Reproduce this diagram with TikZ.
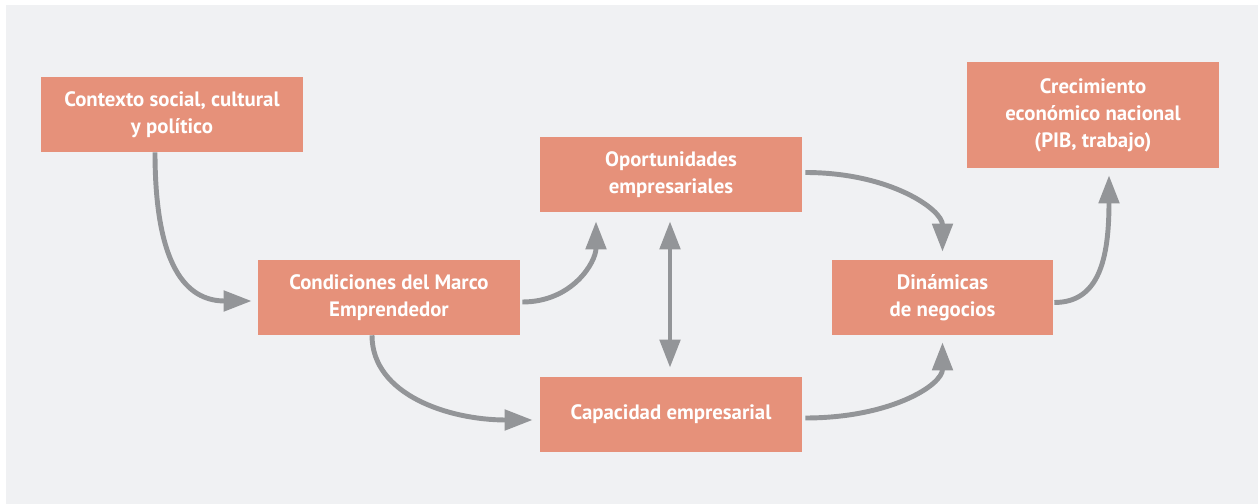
\documentclass[tikz,border=0pt]{standalone}
\usepackage{fontspec}
\setmainfont{PT Sans}
\usetikzlibrary{arrows.meta,calc}

\begin{document}
\begin{tikzpicture}[x=0.025cm,y=-0.025cm,
		caja/.style={fill=cbox,text=white,inner sep=0pt,align=center,minimum width=6.55cm,minimum height=1.875cm,
			font=\bfseries\fontsize{14.8}{19.2}\selectfont},
		flecha/.style={draw=cflecha,line width=3.5pt,-{Triangle[width=0.5cm,length=0.7cm]}},
		dflecha/.style={draw=cflecha,line width=3.5pt,{Triangle[width=0.5cm,length=0.7cm]}-{Triangle[width=0.5cm,length=0.7cm]}}]
			\definecolor{cfondo}{rgb}{0.941,0.945,0.953}
			\definecolor{cbox}{rgb}{0.902,0.569,0.478}
			\definecolor{cflecha}{rgb}{0.576,0.584,0.596}
			%
			\useasboundingbox (0,0) rectangle (1258,504);
			\fill[cfondo] (6,5) rectangle (1258,504);
			%
			\node[caja] (ctx) at (172,114.5) {Contexto social, cultural\\y político};
			\node[caja] (cond) at (389,297.5) {Condiciones del Marco\\Emprendedor};
			\node[caja] (opor) at (671,174.5) {Oportunidades\\empresariales};
			\node[caja] (cap) at (671,414.5) {Capacidad empresarial};
			\node[caja,minimum width=5.525cm] (din) at (942.5,297.5) {Dinámicas\\de negocios};
			\node[caja,minimum width=6.3cm,minimum height=2.65cm] (crec) at (1093,115) {Crecimiento\\económico nacional\\(PIB, trabajo)};
			%
			\draw[flecha,shorten >=0.15cm] ($(ctx.south)+(-17,0)$) .. controls +(0,125) and +(-65,0) .. ($(cond.west)+(0,3.5)$);
			\draw[flecha,shorten >=0.225cm] ($(cond.east)+(2,4.5)$) .. controls +(50,0) and +(0,50) .. ($(opor.south)+(-75,0)$);
			\draw[dflecha,shorten <=0.225cm,shorten >=0.225cm] ($(opor.south)+(-1,0)$) -- ($(cap.north)+(-1,0)$);
			\draw[flecha,shorten >=0.2cm] ($(opor.east)+(3,-2)$) .. controls +(85,0) and +(0,-50) .. (din.north);
			\draw[flecha,shorten >=0.175cm] ($(cap.east)+(3,3.5)$) .. controls +(85,0) and +(0,50) .. (din.south);
			\draw[flecha,shorten >=0.175cm] ($(cond.south)+(-17,0)$) .. controls +(0,60) and +(-90,0) .. ($(cap.west)+(0,5.5)$);
			\draw[flecha,shorten >=0.175cm] ($(din.east)+(1,5)$) .. controls +(45,0) and +(0,90) .. ($(crec.south)+(16,0)$);
			%
		\end{tikzpicture}
\end{document}
